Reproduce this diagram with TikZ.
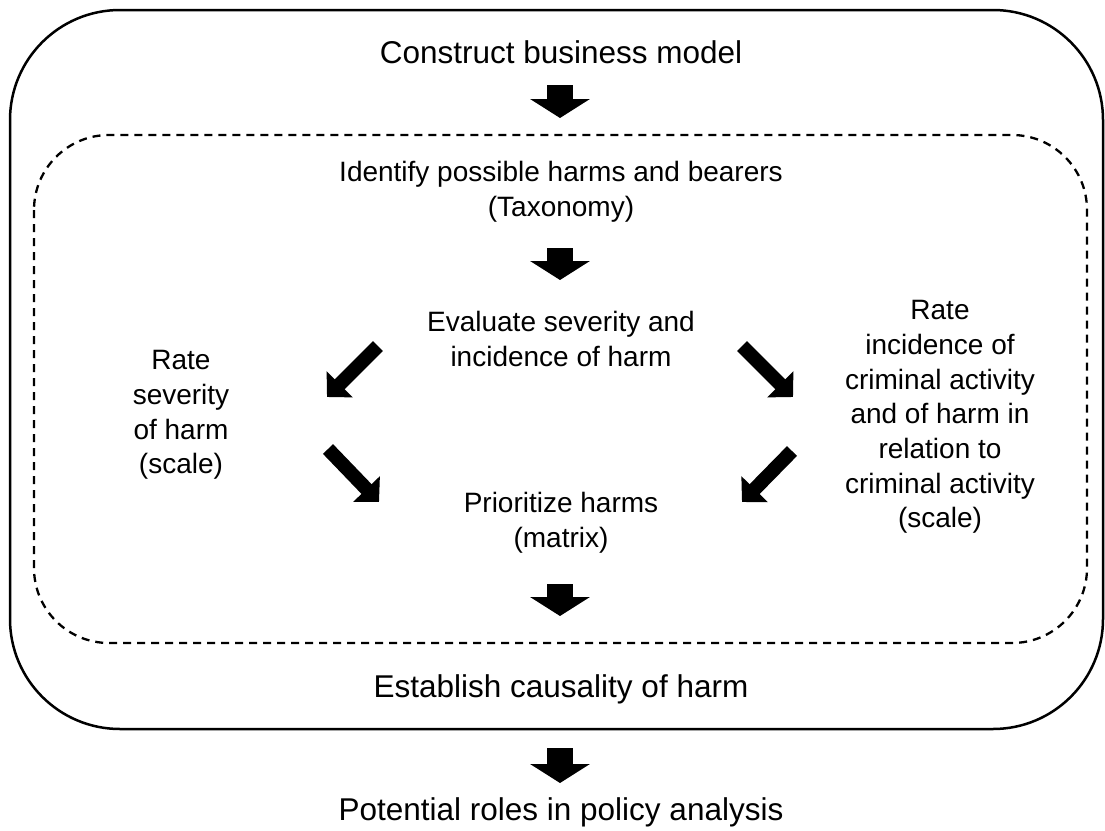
\documentclass[tikz,border=0pt]{standalone}
\usepackage{fontspec}
\setmainfont{Liberation Sans}
\usetikzlibrary{arrows.meta}
\begin{document}
\begin{tikzpicture}[x=1pt,y=-1pt,
  outertext/.style={inner sep=0pt,font=\fontsize{31.5pt}{38pt}\selectfont},
  innertext/.style={inner sep=0pt,align=center,font=\fontsize{28pt}{34.7pt}\selectfont},
  bigarrow/.style={line width=26pt,line cap=butt,-{Triangle[width=59pt,length=19pt]}},
  diagarrow/.style={line width=14pt,line cap=butt,-{Triangle[width=36pt,length=18pt]}},
  outerbox/.style={draw,line width=2.5pt,rounded corners=110pt},
  innerbox/.style={draw,line width=2.3pt,dash pattern=on 8pt off 6pt,rounded corners=75pt}]
\useasboundingbox (0,0) rectangle (1105,830);
\path[outerbox] (10,10) rectangle (1103,729);
\path[innerbox] (34,135) rectangle (1087,643);

\node[outertext] (construct) at (561,52) {Construct business model};
\node[innertext] (identify) at (561,192) {Identify possible harms and bearers\\(Taxonomy)};
\node[innertext] (evaluate) at (561,339) {Evaluate severity and\\incidence of harm};
\node[innertext] (rateL) at (181,415) {Rate\\severity\\of harm\\(scale)};
\node[innertext] (rateR) at (940,417) {Rate\\incidence of\\criminal activity\\and of harm in\\relation to\\criminal activity\\(scale)};
\node[innertext] (prioritize) at (561,523) {Prioritize harms\\(matrix)};
\node[outertext] (establish) at (561,689) {Establish causality of harm};
\node[outertext] (potential) at (561,812) {Potential roles in policy analysis};

\coordinate (a1s) at (560,85);  \coordinate (a1e) at (560,118);
\coordinate (a2s) at (560,248); \coordinate (a2e) at (560,280);
\coordinate (a3s) at (560,584); \coordinate (a3e) at (560,616);
\coordinate (a4s) at (560,748); \coordinate (a4e) at (560,783);
\draw[bigarrow] (a1s) -- (a1e);
\draw[bigarrow] (a2s) -- (a2e);
\draw[bigarrow] (a3s) -- (a3e);
\draw[bigarrow] (a4s) -- (a4e);

\coordinate (d1s) at (378,346); \coordinate (d1e) at (327,397);
\coordinate (d2s) at (742,346); \coordinate (d2e) at (793,397);
\coordinate (d3s) at (328,449); \coordinate (d3e) at (379,502);
\coordinate (d4s) at (792,451); \coordinate (d4e) at (742,502);
\draw[diagarrow] (d1s) -- (d1e);
\draw[diagarrow] (d2s) -- (d2e);
\draw[diagarrow] (d3s) -- (d3e);
\draw[diagarrow] (d4s) -- (d4e);
\end{tikzpicture}
\end{document}
